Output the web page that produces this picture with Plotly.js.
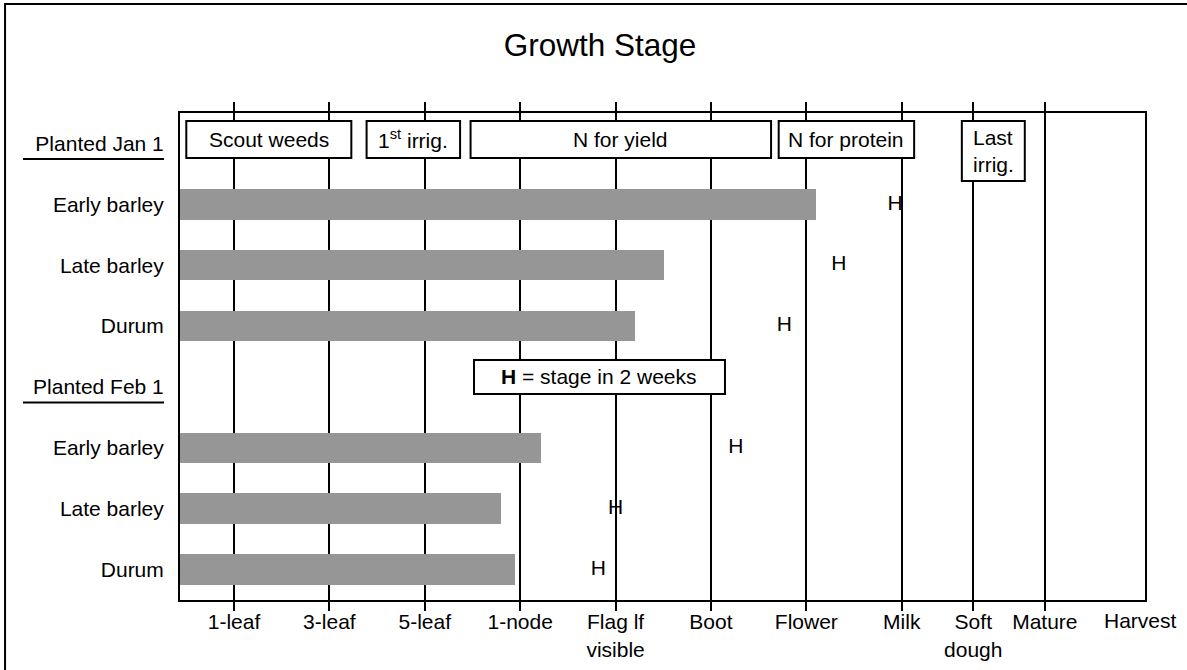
<!DOCTYPE html>
<html>
<head>
<meta charset="utf-8">
<script src="https://cdn.plot.ly/plotly-3.0.1.min.js"></script>
<style>html,body{margin:0;padding:0;background:#fff;}#chart{width:1187px;height:670px;}</style>
</head>
<body>
<div id="chart"></div>
<script>
// ---- data ----
const stageLabels = ['1-leaf', '3-leaf', '5-leaf', '1-node', 'Flag lf<br>visible', 'Boot', 'Flower', 'Milk', 'Soft<br>dough', 'Mature', 'Harvest'];
const stageValues = [1, 2, 3, 4, 5, 6, 7, 8, 8.75, 9.5, 10.5];
const plantings = ['Planted Jan 1', 'Planted Feb 1'];
const crops = ['Early barley', 'Late barley', 'Durum'];
const stageNowJan = [7.10, 5.51, 5.20];
const stageNowFeb = [4.22, 3.80, 3.95];
const stageIn2WkJan = [7.93, 7.34, 6.77];
const stageIn2WkFeb = [6.26, 5.00, 4.82];
const noteLabels = ['Scout weeds', '1<sup>st</sup> irrig.', 'N for yield', 'N for protein', 'Last<br>irrig.'];
const noteFrom = [0.50, 2.39, 3.48, 6.71, 8.63];
const noteTo = [2.23, 3.37, 6.63, 8.13, 9.29];
const keyText = '<b>H</b> = stage in 2 weeks';
const titleText = 'Growth Stage';

// ---- build rows ----
const rowLabels = [];
plantings.forEach(p => { rowLabels.push(p); crops.forEach(c => rowLabels.push(c)); });
const rowIdx = rowLabels.map((_, i) => i);
const nowVals = [stageNowJan, stageNowFeb];
const h2Vals = [stageIn2WkJan, stageIn2WkFeb];
const barY = [], barX = [], hY = [], hX = [];
plantings.forEach((p, pi) => {
  crops.forEach((c, ci) => {
    const r = pi * (crops.length + 1) + 1 + ci;
    barY.push(r); barX.push(nowVals[pi][ci]);
    hY.push(r); hX.push(h2Vals[pi][ci]);
  });
});
const headerRows = plantings.map((p, pi) => pi * (crops.length + 1));

const FONT = 'Arial, "Liberation Sans", sans-serif';
const FS = 21;

const traces = [
  { type: 'bar', orientation: 'h', x: barX, y: barY, width: 0.5,
    marker: { color: '#969696', line: { width: 0 } }, hoverinfo: 'skip', showlegend: false },
  { type: 'scatter', mode: 'text', x: hX, y: hY, text: hX.map(() => 'H'),
    textposition: 'middle center', textfont: { family: FONT, size: FS, color: '#000' },
    cliponaxis: false, hoverinfo: 'skip', showlegend: false }
];

const xLast = stageValues.length - 1;
const shapes = [];
const annotations = [];

// outer frame
shapes.push({ type: 'rect', xref: 'paper', yref: 'paper', x0: -0.1813, x1: 1.06, y0: -0.21, y1: 1.2238,
  line: { color: '#000', width: 2 }, fillcolor: 'rgba(0,0,0,0)', layer: 'above' });

// note boxes
noteLabels.forEach((t, i) => {
  const tall = t.indexOf('<br>') >= 0;
  const y0 = -0.369, y1 = tall ? 0.617 : 0.239;
  shapes.push({ type: 'rect', xref: 'x', yref: 'y', x0: noteFrom[i], x1: noteTo[i], y0: y0, y1: y1,
    fillcolor: '#fff', line: { color: '#000', width: 2 }, layer: 'above' });
  annotations.push({ xref: 'x', yref: 'y', x: (noteFrom[i] + noteTo[i]) / 2, y: (y0 + y1) / 2,
    text: t, showarrow: false, align: 'left', xanchor: 'center', yanchor: 'middle',
    font: { family: FONT, size: FS, color: '#000' } });
});

// key box
shapes.push({ type: 'rect', xref: 'x', yref: 'y', x0: 3.516, x1: 6.147, y0: 3.557, y1: 4.116,
  fillcolor: '#fff', line: { color: '#000', width: 2 }, layer: 'above' });
annotations.push({ xref: 'x', yref: 'y', x: (3.516 + 6.147) / 2, y: (3.557 + 4.116) / 2, text: keyText,
  showarrow: false, xanchor: 'center', yanchor: 'middle', font: { family: FONT, size: FS, color: '#000' } });

// underlines for planting headers
headerRows.forEach(r => {
  shapes.push({ type: 'line', xref: 'paper', yref: 'y', x0: -0.1627, x1: -0.0166, y0: r + 0.2556, y1: r + 0.2556,
    line: { color: '#000', width: 2 }, layer: 'above' });
});

// last stage label (no tick/grid at the right edge)
annotations.push({ xref: 'x', yref: 'paper', x: stageValues[xLast], y: 0, yanchor: 'top', xanchor: 'center',
  yshift: -7, text: stageLabels[xLast], showarrow: false, font: { family: FONT, size: FS, color: '#000' } });

const layout = {
  width: 1187, height: 670,
  margin: { l: 180, r: 42, t: 113, b: 70 },
  paper_bgcolor: '#fff', plot_bgcolor: '#fff',
  font: { family: FONT, size: FS, color: '#000' },
  title: { text: titleText, font: { family: FONT, size: 31.5, color: '#000' },
    xref: 'container', yref: 'container', x: 0.5055, y: 0.933, xanchor: 'center', yanchor: 'middle' },
  showlegend: false,
  bargap: 0,
  xaxis: {
    range: [0.434, 10.55], tickmode: 'array',
    tickvals: stageValues.slice(0, xLast), ticktext: stageLabels.slice(0, xLast),
    ticks: 'outside', ticklen: 9, tickwidth: 2, tickcolor: '#000',
    showline: true, linecolor: '#000', linewidth: 2, mirror: 'ticks',
    showgrid: true, gridcolor: '#000', gridwidth: 2, zeroline: false, ticklabelstandoff: -7,
    tickfont: { family: FONT, size: FS, color: '#000' }, fixedrange: true
  },
  yaxis: {
    range: [7.5, -0.5], tickmode: 'array', tickvals: rowIdx, ticktext: rowLabels,
    ticks: '', showline: true, linecolor: '#000', linewidth: 2, mirror: true,
    showgrid: false, zeroline: false, ticklabelstandoff: 10,
    tickfont: { family: FONT, size: FS, color: '#000' }, fixedrange: true
  },
  shapes: shapes,
  annotations: annotations
};

Plotly.newPlot('chart', traces, layout, { displayModeBar: false, staticPlot: true });
</script>
</body>
</html>
